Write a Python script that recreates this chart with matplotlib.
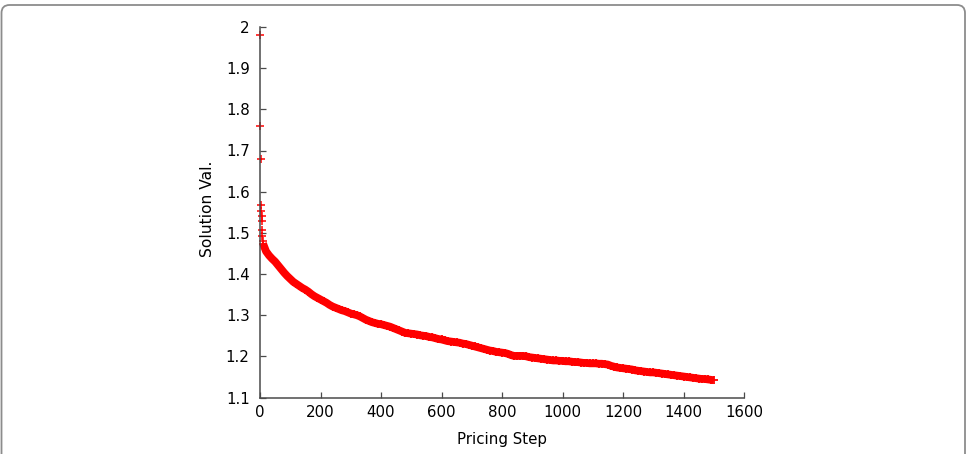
import matplotlib
matplotlib.use("Agg")
import matplotlib.pyplot as plt
from matplotlib.patches import FancyBboxPatch

# ---- data ----
early_steps = [0, 1, 2, 3, 4, 5, 6, 7, 8, 9]
early_vals = [1.980, 1.760, 1.680, 1.567, 1.553, 1.541, 1.528, 1.508, 1.492, 1.480]

curve_steps = list(range(10, 1510, 10))
curve_vals = [
    1.474, 1.455, 1.445, 1.437, 1.430, 1.421, 1.412, 1.403, 1.395, 1.388,   # 10-100
    1.381, 1.376, 1.371, 1.366, 1.362, 1.357, 1.351, 1.346, 1.342, 1.338,   # 110-200
    1.334, 1.330, 1.325, 1.321, 1.318, 1.315, 1.312, 1.310, 1.307, 1.304,   # 210-300
    1.302, 1.300, 1.297, 1.293, 1.289, 1.286, 1.283, 1.281, 1.279, 1.278,   # 310-400
    1.276, 1.274, 1.272, 1.269, 1.266, 1.263, 1.260, 1.257, 1.256, 1.255,   # 410-500
    1.254, 1.253, 1.251, 1.250, 1.249, 1.247, 1.246, 1.244, 1.242, 1.241,   # 510-600
    1.239, 1.237, 1.236, 1.235, 1.234, 1.233, 1.231, 1.230, 1.228, 1.226,   # 610-700
    1.224, 1.222, 1.220, 1.218, 1.216, 1.214, 1.213, 1.211, 1.210, 1.209,   # 710-800
    1.208, 1.206, 1.203, 1.201, 1.201, 1.201, 1.201, 1.200, 1.198, 1.197,   # 810-900
    1.196, 1.195, 1.194, 1.193, 1.192, 1.191, 1.190, 1.190, 1.189, 1.189,   # 910-1000
    1.188, 1.188, 1.187, 1.186, 1.186, 1.185, 1.184, 1.184, 1.183, 1.183,   # 1010-1100
    1.183, 1.182, 1.182, 1.181, 1.180, 1.177, 1.175, 1.173, 1.172, 1.171,   # 1110-1200
    1.170, 1.169, 1.168, 1.166, 1.165, 1.164, 1.163, 1.162, 1.161, 1.161,   # 1210-1300
    1.160, 1.159, 1.158, 1.157, 1.156, 1.155, 1.154, 1.153, 1.152, 1.151,   # 1310-1400
    1.150, 1.149, 1.148, 1.147, 1.146, 1.145, 1.145, 1.144, 1.143, 1.142,   # 1410-1500
]

x_ticks = [0, 200, 400, 600, 800, 1000, 1200, 1400, 1600]
y_ticks = [1.1, 1.2, 1.3, 1.4, 1.5, 1.6, 1.7, 1.8, 1.9, 2.0]
y_tick_labels = ["1.1", "1.2", "1.3", "1.4", "1.5", "1.6", "1.7", "1.8", "1.9", "2"]
x_label = "Pricing Step"
y_label = "Solution Val."

# ---- figure ----
plt.rcParams['font.family'] = ['DejaVu Sans']
W, H, DPI = 968, 454, 100
fig = plt.figure(figsize=(W / DPI, H / DPI), dpi=DPI)

# rounded outer frame
frame = FancyBboxPatch((0.015, -0.3), 9.635, 4.79,
                       boxstyle="round,pad=0,rounding_size=0.08",
                       transform=fig.dpi_scale_trans, fill=False,
                       edgecolor="#8c8c8c", linewidth=1.3, clip_on=False)
fig.patches.append(frame)

ax_l, ax_r, ax_t, ax_b = 260, 744, 27, 397.5
ax = fig.add_axes([ax_l / W, (H - ax_b) / H, (ax_r - ax_l) / W, (ax_b - ax_t) / H])

red = "#ff0000"
ax.plot(curve_steps, curve_vals, color=red, linewidth=5.6, solid_capstyle="butt",
        solid_joinstyle="round", zorder=2, clip_on=False)
ax.plot(curve_steps, curve_vals, linestyle="none", marker="+", markersize=6.4,
        markeredgewidth=1.3, color=red, zorder=2, clip_on=False)
ax.plot(early_steps, early_vals, linestyle="none", marker="+", markersize=5.4,
        markeredgewidth=1.1, color=red, zorder=2, clip_on=False)

ax.set_xlim(0, 1600)
ax.set_ylim(1.1, 2.0)
ax.set_xticks(x_ticks)
ax.set_xticklabels([str(v) for v in x_ticks])
ax.set_yticks(y_ticks)
ax.set_yticklabels(y_tick_labels)

for s in ["top", "right"]:
    ax.spines[s].set_visible(False)
for s in ["left", "bottom"]:
    ax.spines[s].set_color("#4a4a4a")
    ax.spines[s].set_linewidth(1.1)
    ax.spines[s].set_zorder(3)

ax.tick_params(axis="both", direction="in", length=4.5, width=0.9, color="#4a4a4a",
               labelsize=10.8, labelcolor="black")
ax.tick_params(axis="x", pad=5.5)
ax.tick_params(axis="y", pad=7.5)

ax.set_xlabel(x_label, fontsize=10.8)
ax.set_ylabel(y_label, fontsize=11.2)
ax.xaxis.set_label_coords(0.5, -0.092)
ax.yaxis.set_label_coords(-0.094, 0.51)

fig.savefig("out.png", dpi=DPI)
